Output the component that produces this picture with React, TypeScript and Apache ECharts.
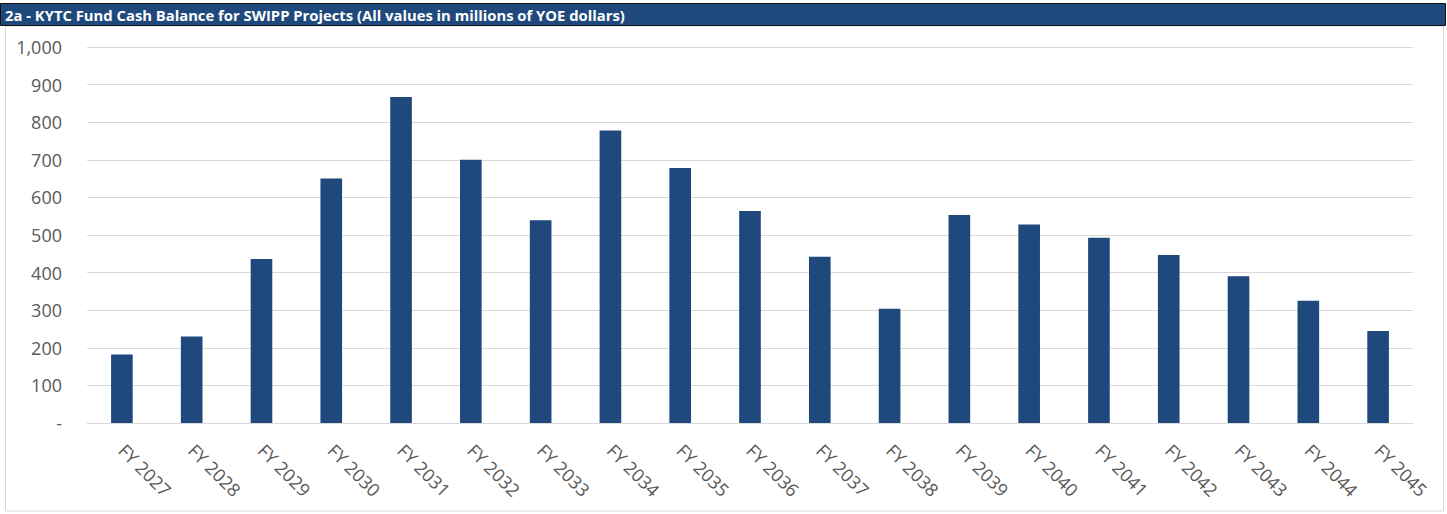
import React, { useEffect, useRef } from "react";
import * as echarts from "echarts";

const TITLE = "2a - KYTC Fund Cash Balance for SWIPP Projects (All values in millions of YOE dollars)";
const categories = [
  "FY 2027", "FY 2028", "FY 2029", "FY 2030", "FY 2031", "FY 2032", "FY 2033",
  "FY 2034", "FY 2035", "FY 2036", "FY 2037", "FY 2038", "FY 2039", "FY 2040",
  "FY 2041", "FY 2042", "FY 2043", "FY 2044", "FY 2045",
];
const cashBalance = [
  182, 230, 436, 650, 867, 700, 539, 778, 678, 564, 442, 304, 553, 528, 493, 447, 390, 325, 245,
];
const yTicks = { min: 0, max: 1000, interval: 100 };

export default function App() {
  const ref = useRef<HTMLDivElement>(null);
  useEffect(() => {
    if (!ref.current) return;
    const chart = echarts.init(ref.current, undefined, { renderer: "svg" });
    chart.setOption({
      animation: false,
      backgroundColor: "#ffffff",
      textStyle: { fontFamily: "Open Sans" },
      graphic: [
        {
          type: "rect",
          shape: { x: 5.5, y: 26, width: 1438, height: 485 },
          style: { fill: "none", stroke: "#d9d9d9", lineWidth: 1 },
          silent: true,
          z: 0,
        },
        {
          type: "rect",
          shape: { x: 0.5, y: 3.5, width: 1445, height: 22 },
          style: { fill: "#1f497d", stroke: "#111111", lineWidth: 1 },
          silent: true,
          z: 10,
        },
        {
          type: "text",
          x: 5,
          y: 15,
          style: {
            text: TITLE,
            fill: "#ffffff",
            font: "bold 14.8px 'Open Sans'",
            verticalAlign: "middle",
            align: "left",
          },
          silent: true,
          z: 11,
        },
      ],
      grid: { left: 87, right: 34, top: 47, bottom: 91, containLabel: false },
      xAxis: {
        type: "category",
        data: categories,
        boundaryGap: true,
        axisTick: { show: false },
        axisLine: { lineStyle: { color: "#d9d9d9", width: 1 } },
        axisLabel: {
          rotate: -45,
          margin: 24,
          color: "#595959",
          fontSize: 18,
          fontFamily: "Open Sans",
          interval: 0,
        },
      },
      yAxis: {
        type: "value",
        min: yTicks.min,
        max: yTicks.max,
        interval: yTicks.interval,
        axisLine: { show: false },
        axisTick: { show: false },
        splitLine: { lineStyle: { color: "#d9d9d9", width: 1 } },
        axisLabel: {
          margin: 25,
          color: "#595959",
          fontSize: 18,
          fontFamily: "Open Sans",
          formatter: (v: number) => (v === 0 ? "-" : v.toLocaleString("en-US")),
        },
      },
      series: [
        {
          type: "bar",
          data: cashBalance,
          barWidth: "31%",
          itemStyle: { color: "#1f497d" },
        },
      ],
    });
    return () => chart.dispose();
  }, []);
  return (
    <div
      ref={ref}
      style={{ position: "fixed", left: 0, top: 0, width: 1447, height: 514 }}
    />
  );
}
